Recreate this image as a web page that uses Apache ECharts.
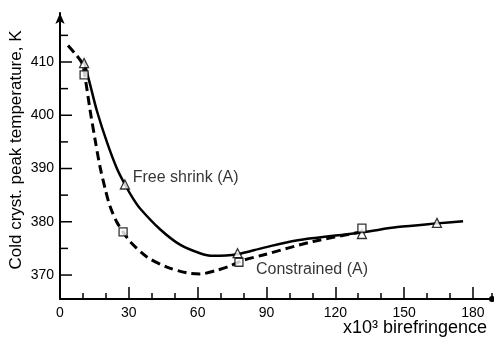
<!DOCTYPE html>
<html>
<head>
<meta charset="utf-8">
<script src="https://cdn.jsdelivr.net/npm/echarts@6/dist/echarts.min.js"></script>
<style>
  html, body { margin: 0; padding: 0; background: #fff; }
  #chart { width: 494px; height: 346px; }
</style>
</head>
<body>
<div id="chart"></div>
<script>
// Measured points (birefringence x10^3, temperature K)
const freeShrinkPts = [[10.5, 409.8], [28.3, 387.0], [77.4, 374.1], [131.6, 377.7], [164.3, 379.8]];
const constrainedPts = [[10.5, 407.6], [27.5, 378.1], [78.0, 372.4], [131.6, 378.8]];

// Fitted curves
const freeShrinkCurve = [
	[10.5, 410.2], [13.1, 405.8], [16.1, 400.8], [20.5, 394.9], [24.8, 390.0], [28.3, 387.0],
	[31.8, 384.4], [34.9, 382.5], [43.6, 378.6], [52.3, 375.7], [61.0, 374.1], [66.7, 373.6],
	[77.2, 373.9], [88.5, 375.1], [103.0, 376.5], [131.6, 378.0], [147.0, 379.0], [164.3, 379.7],
	[175.7, 380.1]
];
const constrainedCurve = [
	[3.5, 413.1], [6.5, 411.6], [9.6, 409.8], [10.9, 407.2], [13.1, 401.0], [15.3, 395.4],
	[17.4, 390.4], [19.8, 386.0], [21.8, 382.9], [24.8, 379.9], [27.5, 378.1], [30.5, 376.3],
	[37.9, 373.4], [46.6, 371.5], [55.4, 370.4], [61.0, 370.2], [68.4, 370.9], [74.1, 371.7],
	[80.0, 372.8], [88.5, 373.75], [110.3, 376.3], [131.6, 378.1]
];

// Axis ticks and labels
const xMajorStep = 30;
const xMinorStep = 10;
const yMajorTicks = [370, 380, 390, 400, 410];
const yMinorTicks = [375, 385, 395, 405, 415];

// Curve annotations [text, x, y]
const annotations = [['Free shrink (A)', 31.7, 388.3], ['Constrained (A)', 85.4, 371.1]];

const xMin = 0, xMax = 188.3;
const yMin = 365.5, yMax = 419.2;
const font = 'Liberation Sans, Arial, sans-serif';
const ink = '#000';

const chart = echarts.init(document.getElementById('chart'), null, { renderer: 'canvas' });

// y-axis ticks drawn inward from the axis line at each tick value
function yTickSeries(ticks, len) {
	return {
		type: 'custom', clip: false, z: 5, silent: true,
		data: ticks.map((v) => [xMin, v]),
		renderItem: (params, api) => {
			const p = api.coord([api.value(0), api.value(1)]);
			return {
				type: 'line',
				shape: { x1: p[0], y1: p[1], x2: p[0] + len, y2: p[1] },
				style: { stroke: ink, lineWidth: 1.5 }
			};
		}
	};
}

const option = {
	backgroundColor: '#fff',
	animation: false,
	grid: { left: 60, right: 2, top: 13, bottom: 47, outerBoundsMode: 'none', containLabel: false },
	xAxis: [
		{
			type: 'value', min: xMin, max: xMax, interval: xMajorStep, position: 'bottom',
			axisLine: { show: true, lineStyle: { color: ink, width: 2 }, symbol: ['none', 'circle'], symbolSize: [6, 6] },
			axisTick: { show: true, inside: true, length: 12, lineStyle: { color: ink, width: 1.5 } },
			axisLabel: { show: true, color: ink, fontFamily: font, fontSize: 14, margin: 7, showMaxLabel: false },
			splitLine: { show: false },
			name: 'x10³ birefringence', nameLocation: 'end', nameGap: -5, nameMoveOverlap: false,
			nameTextStyle: {
				color: ink, fontFamily: font, fontSize: 18, align: 'right', verticalAlign: 'top',
				padding: [20, 0, 0, 0]
			}
		},
		{
			type: 'value', min: xMin, max: xMax, interval: xMinorStep, position: 'bottom',
			axisLine: { show: false },
			axisTick: { show: true, inside: true, length: 6, lineStyle: { color: ink, width: 1.5 } },
			axisLabel: { show: false },
			splitLine: { show: false }
		}
	],
	yAxis: [
		{
			type: 'value', min: yMin, max: yMax, position: 'left',
			axisLine: { show: true, lineStyle: { color: ink, width: 2 }, symbol: ['none', 'arrow'], symbolSize: [7, 11] },
			axisTick: { show: false },
			axisLabel: { customValues: yMajorTicks, color: ink, fontFamily: font, fontSize: 14, margin: 6 },
			splitLine: { show: false },
			name: 'Cold cryst. peak temperature, K', nameLocation: 'middle', nameGap: 35, nameMoveOverlap: false,
			nameTextStyle: { color: ink, fontFamily: font, fontSize: 17, padding: [0, 0, 0, 12] }
		}
	],
	series: [
		yTickSeries(yMajorTicks, 12),
		yTickSeries(yMinorTicks, 8),
		{
			type: 'line', data: freeShrinkCurve, smooth: 0.3, showSymbol: false, z: 2,
			lineStyle: { color: ink, width: 2.5 }
		},
		{
			type: 'line', data: constrainedCurve, smooth: 0.3, showSymbol: false, z: 2,
			lineStyle: { color: ink, width: 3, type: [9, 5] }
		},
		{
			type: 'scatter', data: freeShrinkPts, symbol: 'triangle', symbolSize: 9, z: 3,
			itemStyle: { color: '#fff', borderColor: ink, borderWidth: 1.3 }
		},
		{
			type: 'scatter', data: constrainedPts, symbol: 'rect', symbolSize: 8, z: 3,
			itemStyle: { color: '#fff', borderColor: ink, borderWidth: 1.3 }
		},
		{
			type: 'scatter', symbolSize: 0, z: 4, silent: true,
			data: annotations.map((a) => ({ value: [a[1], a[2]], name: a[0] })),
			label: {
				show: true, position: 'right', distance: 0, formatter: (p) => p.name,
				color: ink, fontFamily: font, fontSize: 16
			}
		}
	]
};

chart.setOption(option);
</script>
</body>
</html>
